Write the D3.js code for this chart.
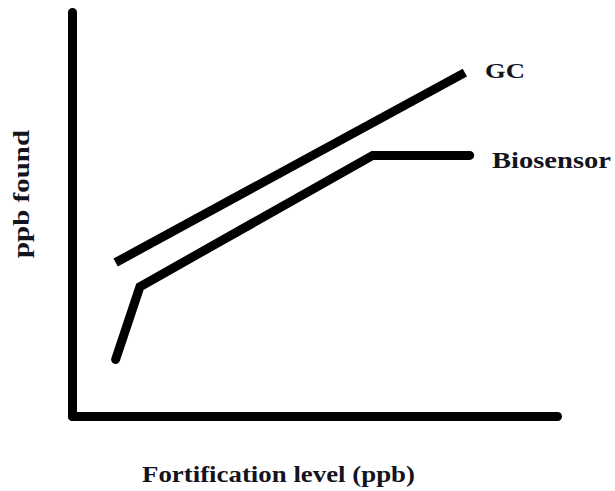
<!DOCTYPE html>
<html>
<head>
<meta charset="utf-8">
<script src="https://cdn.jsdelivr.net/npm/d3@7"></script>
<style>
  html, body { margin: 0; padding: 0; background: #fff; }
  svg { display: block; }
  text { font-family: "Liberation Serif", "Times New Roman", serif; font-weight: bold; fill: #14141e; }
</style>
</head>
<body>
<svg id="chart" width="615" height="491"></svg>
<script>
// Data (arbitrary units 0-100 on both axes; schematic chart without ticks)
const gcX = [9, 81];
const gcY = [38, 85];
const bioX = [9, 14, 62, 82];
const bioY = [14, 32, 64.5, 64.5];
const seriesNames = ["GC", "Biosensor"];
const xTitle = "Fortification level (ppb)";
const yTitle = "ppb found";

const svg = d3.select("#chart");
const x = d3.scaleLinear().domain([0, 100]).range([72, 557]);
const y = d3.scaleLinear().domain([0, 100]).range([416, 12]);

// Axes: domain lines only, thick
const xAxis = svg.append("g")
  .attr("transform", `translate(0,${y(0)})`)
  .call(d3.axisBottom(x).tickValues([]).tickSizeOuter(0));
const yAxis = svg.append("g")
  .attr("transform", `translate(${x(0)},0)`)
  .call(d3.axisLeft(y).tickValues([]).tickSizeOuter(0));
[xAxis, yAxis].forEach(g => g.select(".domain")
  .attr("stroke", "#000").attr("stroke-width", 9).attr("stroke-linecap", "round"));

const line = d3.line().x(d => x(d[0])).y(d => y(d[1]));
const gc = d3.zip(gcX, gcY);
const bio = d3.zip(bioX, bioY);

svg.append("path").datum(gc).attr("d", line)
  .attr("fill", "none").attr("stroke", "#000").attr("stroke-width", 9)
  .attr("stroke-linecap", "butt").attr("stroke-linejoin", "round");
svg.append("path").datum(bio).attr("d", line)
  .attr("fill", "none").attr("stroke", "#000").attr("stroke-width", 9)
  .attr("stroke-linecap", "round").attr("stroke-linejoin", "miter");

// Series labels
svg.append("text").attr("x", 485).attr("y", 78)
  .attr("font-size", 21).attr("textLength", 40).attr("lengthAdjust", "spacingAndGlyphs")
  .text(seriesNames[0]);
svg.append("text").attr("x", 492).attr("y", 168)
  .attr("font-size", 24).attr("textLength", 119).attr("lengthAdjust", "spacingAndGlyphs")
  .text(seriesNames[1]);

// Axis titles
svg.append("text").attr("x", 142).attr("y", 482)
  .attr("font-size", 24).attr("textLength", 273).attr("lengthAdjust", "spacingAndGlyphs")
  .text(xTitle);
svg.append("text")
  .attr("transform", "translate(29,258) rotate(-90)")
  .attr("font-size", 23).attr("textLength", 128).attr("lengthAdjust", "spacingAndGlyphs")
  .text(yTitle);
</script>
</body>
</html>
